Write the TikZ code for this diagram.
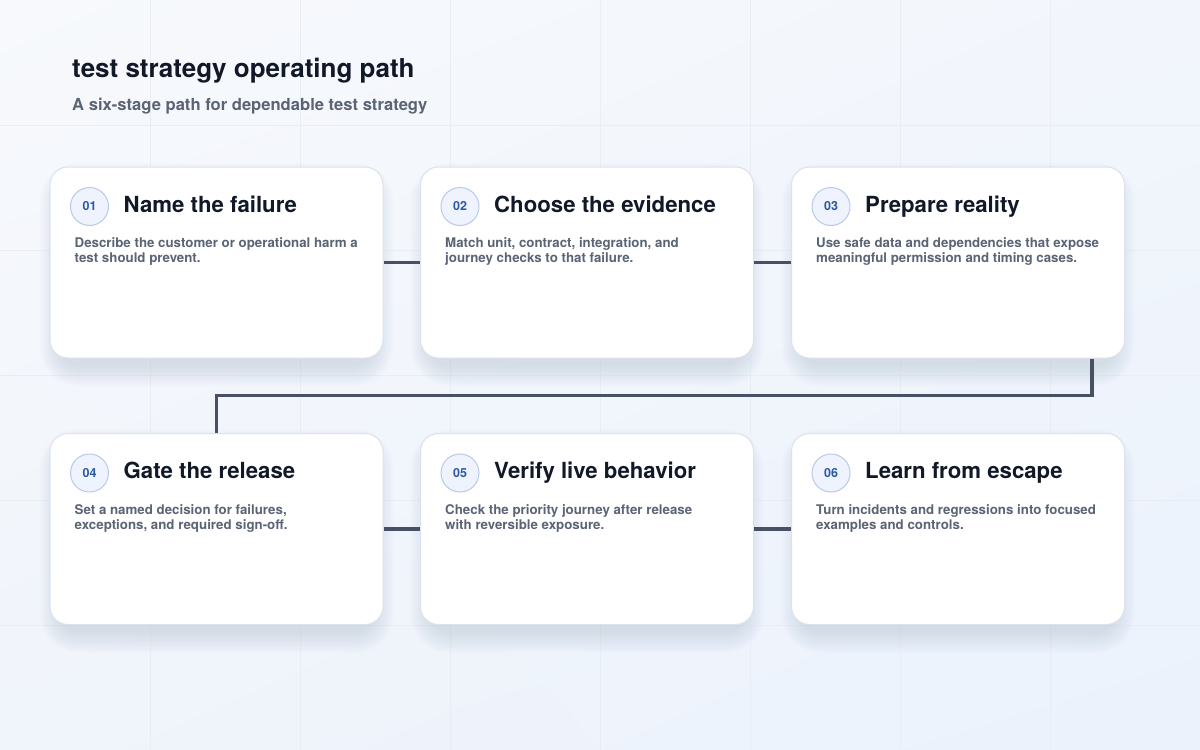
\documentclass[tikz,border=0pt]{standalone}
\usepackage{fontspec}
\setmainfont{TeX Gyre Heros}
\usetikzlibrary{calc,shadings}
\definecolor{bgTL}{HTML}{F7F9FC}
\definecolor{bgTR}{HTML}{F2F6FC}
\definecolor{bgBL}{HTML}{F0F4FB}
\definecolor{bgBR}{HTML}{EBF2FC}
\definecolor{gridc}{HTML}{E9EDF4}
\definecolor{ink}{HTML}{111827}
\definecolor{muted}{HTML}{5B6474}
\definecolor{cardline}{HTML}{DCE2EB}
\definecolor{badgefill}{HTML}{EEF3FD}
\definecolor{badgeline}{HTML}{B9C9E6}
\definecolor{badgetext}{HTML}{2D5AA3}
\definecolor{wire}{HTML}{475163}
\definecolor{shc}{HTML}{7A88A8}
\begin{document}
\begin{tikzpicture}[x=1pt,y=-1pt,
  card/.style={draw=cardline, line width=1pt, fill=white, rounded corners=18pt,
    minimum width=333pt, minimum height=191pt, inner sep=0pt},
  badge/.style={circle, draw=badgeline, line width=1pt, fill=badgefill,
    minimum size=38pt, inner sep=0pt, text=badgetext,
    font=\fontsize{12.5}{12.5}\selectfont\bfseries},
  ctitle/.style={anchor=base west, text=ink, inner sep=0pt,
    font=\fontsize{22.2}{26}\selectfont\bfseries},
  cdesc/.style={anchor=base west, text=muted, inner sep=0pt, align=left,
    font=\fontsize{13.3}{14.8}\selectfont\bfseries},
  wireline/.style={draw=wire, line width=3.5pt}
]
\useasboundingbox (0,0) rectangle (1200,750);
\shade[upper left=bgTL, upper right=bgTR, lower left=bgBL, lower right=bgBR] (0,0) rectangle (1200,750);
\foreach \gx in {150,300,...,1050} \draw[gridc, line width=0.8pt] (\gx,0) -- (\gx,750);
\foreach \gy in {125,250,...,625} \draw[gridc, line width=0.8pt] (0,\gy) -- (1200,\gy);

% header
\node[anchor=base west, inner sep=0pt, text=ink, font=\fontsize{26}{30}\selectfont\bfseries] (title) at (72,77) {test strategy operating path};
\node[anchor=base west, inner sep=0pt, text=muted, font=\fontsize{16.6}{20}\selectfont\bfseries] (subtitle) at (72,110) {A six-stage path for dependable test strategy};

% shadows
\foreach \cx in {216.5,587,958} {
  \foreach \cy in {262.5,529} {
    \foreach \k in {0,2,...,20} {
      \fill[shc, opacity=0.018, rounded corners={(18+\k)*1pt}]
        (\cx-166.5+10-\k, \cy-95.5+16-\k) rectangle (\cx+166.5-10+\k, \cy+95.5+8+\k);
    }
  }
}

\coordinate (c1p) at (216.5,262.5);
\coordinate (c2p) at (587,262.5);
\coordinate (c3p) at (958,262.5);
\coordinate (c4p) at (216.5,529);
\coordinate (c5p) at (587,529);
\coordinate (c6p) at (958,529);

\node[card] (c1) at (c1p) {};
\node[card] (c2) at (c2p) {};
\node[card] (c3) at (c3p) {};
\node[card] (c4) at (c4p) {};
\node[card] (c5) at (c5p) {};
\node[card] (c6) at (c6p) {};

\draw[wireline] (c1.east) -- (c2.west);
\draw[wireline] (c2.east) -- (c3.west);
\draw[wireline] (c4.east) -- (c5.west);
\draw[wireline] (c5.east) -- (c6.west);
\coordinate (drop) at ($(c3.south east)+(-33,0)$);
\draw[wireline, line join=miter] (drop) -- ++(0,37) -| (c4.north);

% card contents
\foreach \c/\n/\t/\d in {
  c1/01/{Name the failure}/{Describe the customer or operational harm a\\test should prevent.},
  c2/02/{Choose the evidence}/{Match unit, contract, integration, and\\journey checks to that failure.},
  c3/03/{Prepare reality}/{Use safe data and dependencies that expose\\meaningful permission and timing cases.},
  c4/04/{Gate the release}/{Set a named decision for failures,\\exceptions, and required sign-off.},
  c5/05/{Verify live behavior}/{Check the priority journey after release\\with reversible exposure.},
  c6/06/{Learn from escape}/{Turn incidents and regressions into focused\\examples and controls.}} {
  \node[badge] (\c b) at ($(\c.north west)+(40,40)$) {\n};
  \node[ctitle] (\c t) at ($(\c.north west)+(74,45.5)$) {\t};
  \node[cdesc] (\c d) at ($(\c.north west)+(25,96)$) {\d};
}
\end{tikzpicture}
\end{document}
